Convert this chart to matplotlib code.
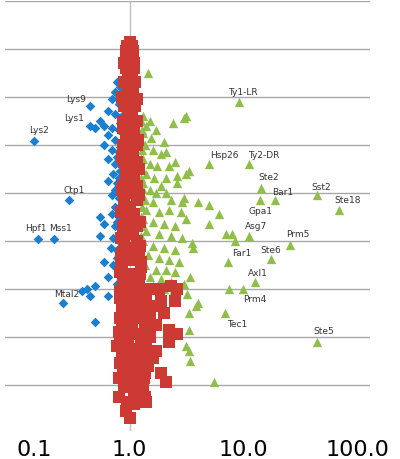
import matplotlib
matplotlib.use("Agg")
import matplotlib.pyplot as plt

# red (unchanged), blue (down), green (up) -- x fold change, y row position
red_x = [1.0, 0.95, 1.05, 0.93, 1.0, 1.08, 0.95, 1.05, 1.0, 0.92, 1.1, 0.97, 1.05, 0.9, 1.12, 1.0, 0.95, 1.08,
         1.0, 0.9, 1.12, 0.97, 1.05, 0.88, 1.15, 1.0, 0.93, 1.1, 1.0, 0.88, 1.15, 0.95, 1.07, 0.9, 1.15, 1.0,
         0.92, 1.1, 1.0, 0.88, 1.15, 0.95, 1.07, 0.9, 1.15, 1.0, 0.92, 1.1, 1.0, 0.88, 1.17, 0.95, 1.07, 0.9,
         1.15, 1.0, 0.85, 1.2, 0.95, 1.1, 0.85, 1.25, 1.0, 0.88, 1.2, 1.05, 0.83, 1.3, 1.5, 1.8, 2.3, 2.6,
         0.95, 1.15, 1.4, 1.9, 2.5, 0.85, 1.05, 1.3, 1.6, 2.0, 0.92, 1.2, 1.5, 0.85, 1.05, 1.35, 1.7, 2.2,
         2.6, 0.8, 1.0, 1.25, 1.5, 2.2, 0.78, 0.95, 1.15, 1.4, 0.85, 1.1, 1.3, 1.6, 0.95, 1.2, 1.45, 0.88,
         1.1, 1.35, 1.9, 2.1, 1.0, 1.25, 0.9, 1.1, 1.3, 0.95, 1.1, 0.92,
         0.9, 1.1, 0.86, 1.16, 0.87, 1.18, 0.86, 1.2, 0.85, 1.2, 0.84, 1.22, 0.84, 1.22, 0.84, 1.23, 0.83,
         1.25, 0.83, 1.26, 0.82, 1.28, 0.82, 1.3, 0.82, 1.3, 0.8, 1.33, 0.81, 1.35, 1.18, 1.0, 1.4, 1.7,
         1.03, 0.97, 1.03, 0.97, 1.03, 0.97, 1.03, 0.97, 1.03, 0.97, 1.03, 0.97, 1.03, 0.97]
red_y = [0.85, 0.95, 0.95, 1.05, 1.05, 1.05, 1.2, 1.2, 1.35, 1.4, 1.4, 1.55, 1.6, 1.7, 1.7, 1.8, 1.95, 1.95,
         2.1, 2.2, 2.2, 2.35, 2.4, 2.5, 2.5, 2.6, 2.75, 2.75, 2.9, 3.0, 3.0, 3.15, 3.2, 3.35, 3.35, 3.45,
         3.6, 3.6, 3.75, 3.85, 3.85, 4.0, 4.0, 4.15, 4.15, 4.3, 4.45, 4.45, 4.6, 4.7, 4.7, 4.85, 4.85, 5.0,
         5.0, 5.15, 5.25, 5.25, 5.4, 5.4, 5.55, 5.55, 5.7, 5.85, 5.85, 5.95, 6.05, 6.05, 6.0, 6.0, 5.95, 6.0,
         6.2, 6.2, 6.2, 6.25, 6.25, 6.35, 6.4, 6.4, 6.35, 6.5, 6.55, 6.6, 6.6, 6.75, 6.75, 6.8, 6.75, 6.85,
         6.95, 6.9, 6.95, 7.0, 7.0, 7.1, 7.2, 7.15, 7.25, 7.2, 7.4, 7.4, 7.45, 7.45, 7.55, 7.6, 7.6, 7.75,
         7.8, 7.75, 7.75, 7.95, 7.95, 7.95, 8.05, 8.15, 8.1, 8.35, 8.4, 8.55,
         1.3, 1.3, 2.0, 2.05, 2.65, 2.9, 3.25, 3.5, 3.95, 4.05, 4.4, 4.6, 4.95, 5.1, 5.35, 5.7, 5.65,
         5.45, 6.2, 6.3, 6.6, 6.95, 7.0, 7.3, 7.55, 7.65, 7.85, 7.85, 8.25, 8.25, 8.0, 8.7, 8.35, 7.3,
         1.5, 1.9, 2.25, 2.55, 3.05, 3.55, 3.95, 4.35, 4.8, 5.3, 5.8, 6.1, 6.55, 7.05]

blue_x = [0.78, 0.82, 0.75, 0.85, 0.7, 0.8, 0.65, 0.75, 0.85, 0.55, 0.6, 0.7, 0.8, 0.5, 0.65, 0.75, 0.85, 0.6,
          0.7, 0.8, 0.65, 0.75, 0.85, 0.72, 0.8, 0.65, 0.85, 0.75, 0.7, 0.8, 0.85, 0.75, 0.55, 0.7, 0.8, 0.6,
          0.75, 0.85, 0.55, 0.72, 0.8, 0.68, 0.78, 0.85, 0.6, 0.72, 0.8, 0.65, 0.78, 0.5, 0.42, 0.38, 0.45,
          0.65, 0.5, 0.82, 0.82, 0.82, 0.82, 0.82, 0.82, 0.82, 0.82, 0.78, 0.78, 0.78, 0.78]
blue_y = [1.7, 1.8, 1.9, 2.0, 2.05, 2.15, 2.3, 2.35, 2.4, 2.5, 2.6, 2.65, 2.7, 2.65, 2.8, 2.9, 2.95, 3.0,
          3.1, 3.15, 3.3, 3.4, 3.45, 3.6, 3.7, 3.75, 3.85, 3.95, 4.05, 4.1, 4.25, 4.3, 4.5, 4.45, 4.5, 4.65,
          4.7, 4.75, 4.9, 4.95, 5.0, 5.15, 5.2, 5.3, 5.45, 5.5, 5.6, 5.75, 5.9, 5.95, 6.0, 6.05, 6.15,
          6.15, 6.7, 2.55, 3.05, 3.55, 4.0, 4.4, 4.85, 5.15, 5.4, 3.25, 3.8, 4.6, 5.35]

green_x = [1.3, 1.5, 1.4, 1.7, 1.3, 1.55, 2.4, 3.0, 2.0, 1.35, 1.6, 2.1, 1.9, 2.5, 1.3, 1.5, 1.75, 2.2, 1.4,
           1.65, 2.1, 2.6, 3.3, 1.3, 1.9, 2.6, 3.1, 1.5, 1.7, 2.1, 3.0, 1.35, 1.6, 2.3, 2.9, 4.0, 5.0, 1.4,
           1.8, 2.2, 2.8, 3.1, 6.1, 1.3, 1.6, 2.0, 2.5, 5.0, 7.0, 8.0, 1.4, 1.8, 2.3, 2.9, 8.5, 3.5, 1.3, 1.6,
           2.0, 2.5, 3.6, 1.45, 1.8, 2.2, 2.7, 1.35, 1.7, 2.1, 2.5, 1.5, 1.9, 2.3, 3.4, 3.0, 1.6, 2.0, 2.4,
           3.2, 4.0, 3.3, 3.3, 3.8, 7.5, 3.1, 3.3, 3.4, 5.5, 1.45, 3.1,
           1.25, 1.25, 1.25, 1.25, 1.25, 1.25, 1.25, 1.25, 1.28, 1.28, 1.28, 1.28, 1.28, 1.28]
green_y = [2.4, 2.5, 2.6, 2.7, 2.75, 2.85, 2.55, 2.45, 2.95, 3.0, 3.1, 3.15, 3.2, 3.35, 3.3, 3.4, 3.45, 3.45,
           3.6, 3.7, 3.7, 3.65, 3.55, 3.8, 3.85, 3.8, 3.6, 3.95, 4.0, 4.0, 4.1, 4.15, 4.2, 4.15, 4.2, 4.2,
           4.25, 4.35, 4.4, 4.35, 4.4, 4.55, 4.45, 4.55, 4.6, 4.65, 4.7, 4.65, 4.85, 4.85, 4.8, 4.85, 4.9,
           4.95, 5.0, 5.05, 5.0, 5.1, 5.15, 5.2, 5.15, 5.3, 5.35, 5.4, 5.45, 5.5, 5.6, 5.6, 5.65, 5.75, 5.8,
           5.85, 5.75, 5.9, 5.95, 6.0, 6.05, 6.1, 6.3, 6.5, 6.85, 6.35, 6.0, 7.2, 7.3, 7.5, 7.95, 1.5, 2.4,
           2.5, 2.9, 3.3, 3.7, 4.1, 4.5, 4.9, 5.3, 2.7, 3.1, 3.5, 3.9, 4.3, 4.7]

# labelled genes
up_names = ["Ty1-LR", "Hsp26", "Ty2-DR", "Ste2", "Bar1", "Sst2", "Ste18", "Gpa1", "Asg7", "Prm5",
            "Ste6", "Far1", "Axl1", "Prm4", "Tec1", "Ste5"]
up_x = [9.1, 5.0, 11.3, 14.3, 19.1, 44.7, 70, 14, 11.3, 25.7, 17.4, 7.3, 12.7, 10, 6.9, 44.7]
up_y = [2.1, 3.4, 3.4, 3.9, 4.15, 4.05, 4.35, 4.15, 4.9, 5.08, 5.38, 5.44, 5.85, 6.0, 6.5, 7.1]
up_off = [(4, 10), (15, 10), (14, 10), (8, 12), (7, 9), (4, 9), (8, 10), (1, -10), (7, 11), (8, 11),
          (0, 10), (14, 9), (3, 9), (11, -10), (12, -11), (6, 11)]

down_names = ["Lys2", "Lys9", "Lys1", "Ctp1", "Hpf1", "Mss1", "Mtal2"]
down_x = [0.143, 0.446, 0.446, 0.29, 0.157, 0.215, 0.26]
down_y = [2.92, 2.19, 2.6, 4.15, 4.96, 4.96, 6.3]
down_off = [(5, 12), (-14, 7), (-16, 8), (6, 11), (-2, 11), (7, 11), (3, 10)]

fig = plt.figure(figsize=(4, 4.6), dpi=100)
ax = fig.add_axes([0.0125, 0.061, 0.9125, 0.935])
ax.set_xscale("log")
ax.set_xlim(0.08, 130)
ax.set_ylim(8.96, 0)

for yy in range(0, 9):
    ax.axhline(yy, color="#a8a8a8", lw=1, zorder=0)
ax.axvline(1.0, color="#c0c0c0", lw=1, zorder=0)

ax.scatter(blue_x + down_x, blue_y + down_y, marker="D", s=24, color="#1a7fd0", lw=0, zorder=2)
ax.scatter(green_x + up_x, green_y + up_y, marker="^", s=45, color="#8fbf4a", lw=0, zorder=2)
ax.scatter(red_x, red_y, marker="s", s=70, color="#cc3a33", lw=0, zorder=3)

for name, x, y, off in zip(up_names + down_names, up_x + down_x, up_y + down_y, up_off + down_off):
    ax.annotate(name, (x, y), xytext=off, textcoords="offset pixels", ha="center", va="center",
                fontsize=6.5, color="#333333")

for s in ax.spines.values():
    s.set_visible(False)
ax.set_yticks([])
ax.set_xticks([0.1, 1, 10, 100])
ax.set_xticklabels(["0.1", "1.0", "10.0", "100.0"], fontsize=16)
ax.get_xticklabels()[0].set_horizontalalignment("left")
ax.get_xticklabels()[0].set_x(0.1)
ax.xaxis.set_minor_locator(matplotlib.ticker.NullLocator())
ax.tick_params(axis="x", length=0, pad=6)

fig.savefig("out.png", dpi=100)
